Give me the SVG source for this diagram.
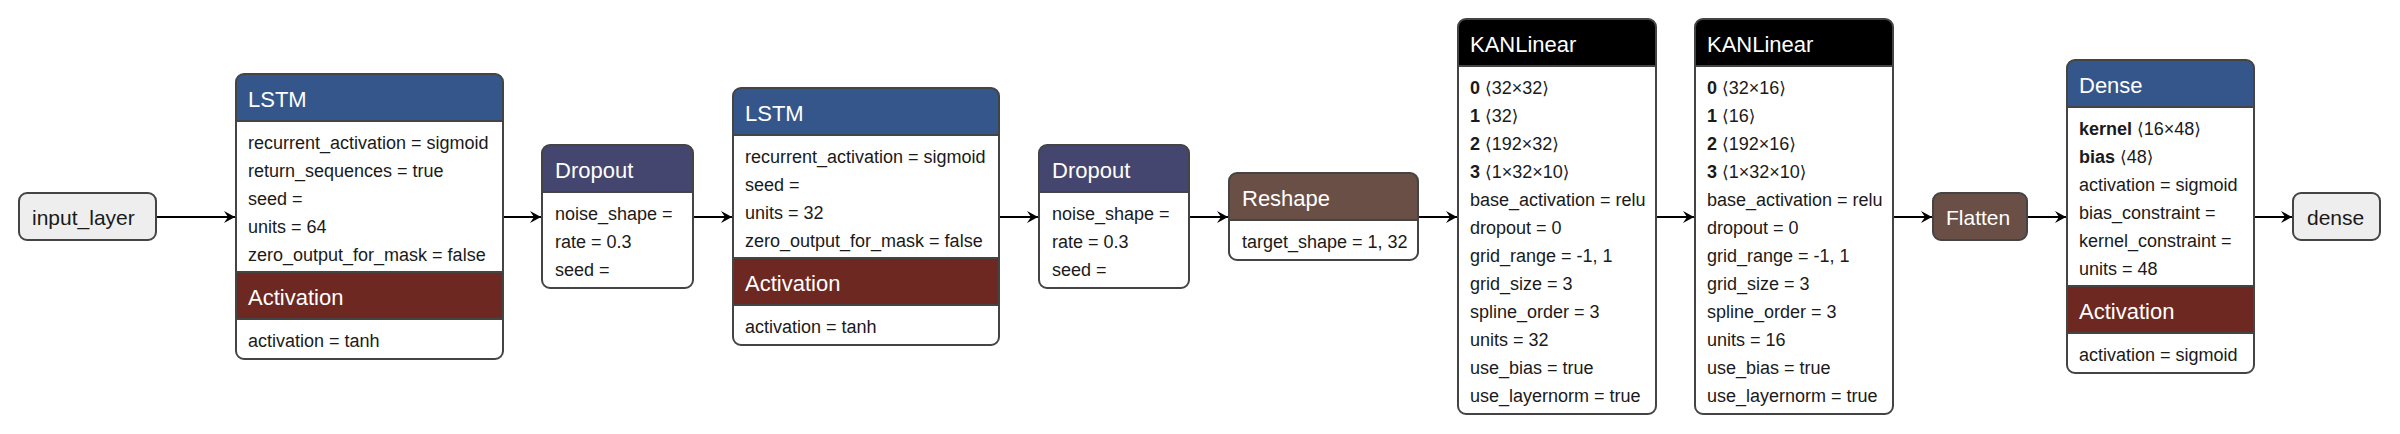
<svg xmlns="http://www.w3.org/2000/svg" width="2400" height="434" viewBox="0 0 2400 434">
<style>
text{font-family:"Liberation Sans","DejaVu Sans",Arial,sans-serif;}
.b{font-size:18px;fill:#1a1a1a;}
.h{font-size:22px;fill:#ffffff;}
.s{font-size:21px;fill:#1a1a1a;}
.sw{font-size:21px;fill:#ffffff;}
.k{font-weight:bold;}
.br{font-family:"DejaVu Sans","Liberation Sans",sans-serif;font-size:17px;}
.o{fill:none;stroke:#444444;stroke-width:2;}
.sep{stroke:#444444;stroke-width:2;}
.blue{fill:#34568B;}
.drop{fill:#44466F;}
.act{fill:#6D2822;}
.brown{fill:#6A4F46;}
.blk{fill:#000000;}
.grey{fill:#EEEEEE;}
.edge{stroke:#000;stroke-width:2;fill:none;}
</style>
<defs>
<marker id="arr" markerUnits="userSpaceOnUse" markerWidth="14" markerHeight="14" viewBox="-12 -7 14 14" refX="0" refY="0" orient="auto">
<path d="M0,0 L-11,-6 L-7,0 L-11,6 Z" fill="#000"/>
</marker>
</defs>
<rect width="2400" height="434" fill="#ffffff"/>

<g id="connectors">
<line class="edge" x1="156" y1="217" x2="235" y2="217" marker-end="url(#arr)"/>
<line class="edge" x1="503" y1="217" x2="541" y2="217" marker-end="url(#arr)"/>
<line class="edge" x1="693" y1="217" x2="732" y2="217" marker-end="url(#arr)"/>
<line class="edge" x1="999" y1="217" x2="1038" y2="217" marker-end="url(#arr)"/>
<line class="edge" x1="1189" y1="217" x2="1228" y2="217" marker-end="url(#arr)"/>
<line class="edge" x1="1418" y1="217" x2="1457" y2="217" marker-end="url(#arr)"/>
<line class="edge" x1="1656" y1="217" x2="1694" y2="217" marker-end="url(#arr)"/>
<line class="edge" x1="1893" y1="217" x2="1932" y2="217" marker-end="url(#arr)"/>
<line class="edge" x1="2027" y1="217" x2="2066" y2="217" marker-end="url(#arr)"/>
<line class="edge" x1="2254" y1="217" x2="2292" y2="217" marker-end="url(#arr)"/>
</g>

<g id="input_layer">
<rect x="19" y="193" width="137" height="47" rx="8" class="grey"/>
<rect x="19" y="193" width="137" height="47" rx="8" class="o"/>
<text x="32" y="225" class="s">input_layer</text>
</g>

<g id="lstm_1">
<rect x="236" y="74" width="267" height="285" rx="8" fill="#fff"/>
<path d="M236,121 L236,82 Q236,74 244,74 L495,74 Q503,74 503,82 L503,121 Z" class="blue"/>
<rect x="236" y="272" width="267" height="47" class="act"/>
<line x1="236" y1="121" x2="503" y2="121" class="sep"/>
<line x1="236" y1="272" x2="503" y2="272" class="sep"/>
<line x1="236" y1="319" x2="503" y2="319" class="sep"/>
<rect x="236" y="74" width="267" height="285" rx="8" class="o"/>
<text x="248" y="107" class="h">LSTM</text>
<text x="248" y="149" class="b">recurrent_activation = sigmoid</text>
<text x="248" y="177" class="b">return_sequences = true</text>
<text x="248" y="205" class="b">seed =</text>
<text x="248" y="233" class="b">units = 64</text>
<text x="248" y="261" class="b">zero_output_for_mask = false</text>
<text x="248" y="305" class="h">Activation</text>
<text x="248" y="347" class="b">activation = tanh</text>
</g>

<g id="dropout_1">
<rect x="542" y="145" width="151" height="143" rx="8" fill="#fff"/>
<path d="M542,192 L542,153 Q542,145 550,145 L685,145 Q693,145 693,153 L693,192 Z" class="drop"/>
<line x1="542" y1="192" x2="693" y2="192" class="sep"/>
<rect x="542" y="145" width="151" height="143" rx="8" class="o"/>
<text x="555" y="178" class="h">Dropout</text>
<text x="555" y="220" class="b">noise_shape =</text>
<text x="555" y="248" class="b">rate = 0.3</text>
<text x="555" y="276" class="b">seed =</text>
</g>

<g id="lstm_2">
<rect x="733" y="88" width="266" height="257" rx="8" fill="#fff"/>
<path d="M733,135 L733,96 Q733,88 741,88 L991,88 Q999,88 999,96 L999,135 Z" class="blue"/>
<rect x="733" y="258" width="266" height="47" class="act"/>
<line x1="733" y1="135" x2="999" y2="135" class="sep"/>
<line x1="733" y1="258" x2="999" y2="258" class="sep"/>
<line x1="733" y1="305" x2="999" y2="305" class="sep"/>
<rect x="733" y="88" width="266" height="257" rx="8" class="o"/>
<text x="745" y="121" class="h">LSTM</text>
<text x="745" y="163" class="b">recurrent_activation = sigmoid</text>
<text x="745" y="191" class="b">seed =</text>
<text x="745" y="219" class="b">units = 32</text>
<text x="745" y="247" class="b">zero_output_for_mask = false</text>
<text x="745" y="291" class="h">Activation</text>
<text x="745" y="333" class="b">activation = tanh</text>
</g>

<g id="dropout_2">
<rect x="1039" y="145" width="150" height="143" rx="8" fill="#fff"/>
<path d="M1039,192 L1039,153 Q1039,145 1047,145 L1181,145 Q1189,145 1189,153 L1189,192 Z" class="drop"/>
<line x1="1039" y1="192" x2="1189" y2="192" class="sep"/>
<rect x="1039" y="145" width="150" height="143" rx="8" class="o"/>
<text x="1052" y="178" class="h">Dropout</text>
<text x="1052" y="220" class="b">noise_shape =</text>
<text x="1052" y="248" class="b">rate = 0.3</text>
<text x="1052" y="276" class="b">seed =</text>
</g>

<g id="reshape">
<rect x="1229" y="173" width="189" height="87" rx="8" fill="#fff"/>
<path d="M1229,220 L1229,181 Q1229,173 1237,173 L1410,173 Q1418,173 1418,181 L1418,220 Z" class="brown"/>
<line x1="1229" y1="220" x2="1418" y2="220" class="sep"/>
<rect x="1229" y="173" width="189" height="87" rx="8" class="o"/>
<text x="1242" y="206" class="h">Reshape</text>
<text x="1242" y="248" class="b">target_shape = 1, 32</text>
</g>

<g id="kanlinear_1">
<rect x="1458" y="19" width="198" height="395" rx="8" fill="#fff"/>
<path d="M1458,66 L1458,27 Q1458,19 1466,19 L1648,19 Q1656,19 1656,27 L1656,66 Z" class="blk"/>
<line x1="1458" y1="66" x2="1656" y2="66" class="sep"/>
<rect x="1458" y="19" width="198" height="395" rx="8" class="o"/>
<text x="1470" y="52" class="h">KANLinear</text>
<text x="1470" y="94" class="b"><tspan class="k">0</tspan> <tspan class="br">⟨</tspan>32×32<tspan class="br">⟩</tspan></text>
<text x="1470" y="122" class="b"><tspan class="k">1</tspan> <tspan class="br">⟨</tspan>32<tspan class="br">⟩</tspan></text>
<text x="1470" y="150" class="b"><tspan class="k">2</tspan> <tspan class="br">⟨</tspan>192×32<tspan class="br">⟩</tspan></text>
<text x="1470" y="178" class="b"><tspan class="k">3</tspan> <tspan class="br">⟨</tspan>1×32×10<tspan class="br">⟩</tspan></text>
<text x="1470" y="206" class="b">base_activation = relu</text>
<text x="1470" y="234" class="b">dropout = 0</text>
<text x="1470" y="262" class="b">grid_range = -1, 1</text>
<text x="1470" y="290" class="b">grid_size = 3</text>
<text x="1470" y="318" class="b">spline_order = 3</text>
<text x="1470" y="346" class="b">units = 32</text>
<text x="1470" y="374" class="b">use_bias = true</text>
<text x="1470" y="402" class="b">use_layernorm = true</text>
</g>

<g id="kanlinear_2">
<rect x="1695" y="19" width="198" height="395" rx="8" fill="#fff"/>
<path d="M1695,66 L1695,27 Q1695,19 1703,19 L1885,19 Q1893,19 1893,27 L1893,66 Z" class="blk"/>
<line x1="1695" y1="66" x2="1893" y2="66" class="sep"/>
<rect x="1695" y="19" width="198" height="395" rx="8" class="o"/>
<text x="1707" y="52" class="h">KANLinear</text>
<text x="1707" y="94" class="b"><tspan class="k">0</tspan> <tspan class="br">⟨</tspan>32×16<tspan class="br">⟩</tspan></text>
<text x="1707" y="122" class="b"><tspan class="k">1</tspan> <tspan class="br">⟨</tspan>16<tspan class="br">⟩</tspan></text>
<text x="1707" y="150" class="b"><tspan class="k">2</tspan> <tspan class="br">⟨</tspan>192×16<tspan class="br">⟩</tspan></text>
<text x="1707" y="178" class="b"><tspan class="k">3</tspan> <tspan class="br">⟨</tspan>1×32×10<tspan class="br">⟩</tspan></text>
<text x="1707" y="206" class="b">base_activation = relu</text>
<text x="1707" y="234" class="b">dropout = 0</text>
<text x="1707" y="262" class="b">grid_range = -1, 1</text>
<text x="1707" y="290" class="b">grid_size = 3</text>
<text x="1707" y="318" class="b">spline_order = 3</text>
<text x="1707" y="346" class="b">units = 16</text>
<text x="1707" y="374" class="b">use_bias = true</text>
<text x="1707" y="402" class="b">use_layernorm = true</text>
</g>

<g id="flatten">
<rect x="1933" y="193" width="94" height="47" rx="8" class="brown"/>
<rect x="1933" y="193" width="94" height="47" rx="8" class="o"/>
<text x="1946" y="225" class="sw">Flatten</text>
</g>

<g id="dense_layer">
<rect x="2067" y="60" width="187" height="313" rx="8" fill="#fff"/>
<path d="M2067,107 L2067,68 Q2067,60 2075,60 L2246,60 Q2254,60 2254,68 L2254,107 Z" class="blue"/>
<rect x="2067" y="286" width="187" height="47" class="act"/>
<line x1="2067" y1="107" x2="2254" y2="107" class="sep"/>
<line x1="2067" y1="286" x2="2254" y2="286" class="sep"/>
<line x1="2067" y1="333" x2="2254" y2="333" class="sep"/>
<rect x="2067" y="60" width="187" height="313" rx="8" class="o"/>
<text x="2079" y="93" class="h">Dense</text>
<text x="2079" y="135" class="b"><tspan class="k">kernel</tspan> <tspan class="br">⟨</tspan>16×48<tspan class="br">⟩</tspan></text>
<text x="2079" y="163" class="b"><tspan class="k">bias</tspan> <tspan class="br">⟨</tspan>48<tspan class="br">⟩</tspan></text>
<text x="2079" y="191" class="b">activation = sigmoid</text>
<text x="2079" y="219" class="b">bias_constraint =</text>
<text x="2079" y="247" class="b">kernel_constraint =</text>
<text x="2079" y="275" class="b">units = 48</text>
<text x="2079" y="319" class="h">Activation</text>
<text x="2079" y="361" class="b">activation = sigmoid</text>
</g>

<g id="dense_output">
<rect x="2293" y="193" width="87" height="47" rx="8" class="grey"/>
<rect x="2293" y="193" width="87" height="47" rx="8" class="o"/>
<text x="2307" y="225" class="s">dense</text>
</g>
</svg>
